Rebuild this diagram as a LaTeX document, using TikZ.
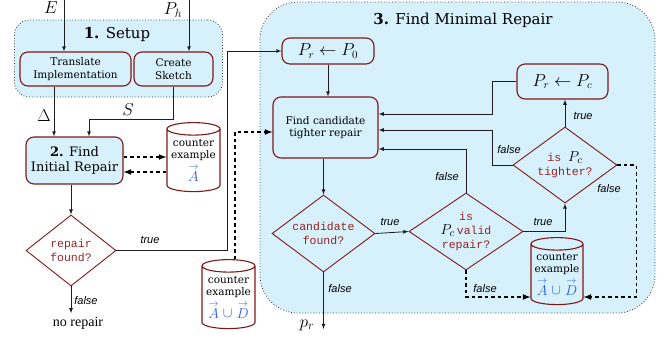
\documentclass[tikz,border=0pt]{standalone}
\usepackage{fontspec}
\setmainfont{DejaVu Serif}
\setmonofont{Liberation Mono}
\newfontfamily\labelfont{Liberation Sans}
\newfontfamily\plainserif{Liberation Serif}
\usetikzlibrary{shapes.geometric}

\definecolor{paleblue}{RGB}{214,240,252}
\definecolor{boxred}{RGB}{128,24,24}
\definecolor{testred}{RGB}{150,36,36}
\definecolor{vecblue}{RGB}{40,90,250}
\definecolor{wire}{RGB}{30,30,30}

\newcommand{\cexvec}[1]{{\color{vecblue}\fontsize{14}{15}\selectfont$#1$}}
\newcommand{\arr}[1]{\stackrel{\rightarrow}{#1}}

\tikzset{
  stage/.style={draw=black!80, dotted, line width=0.8pt, fill=paleblue},
  stepbox/.style={draw=boxred, line width=1.1pt, rounded corners=8pt, fill=paleblue,
    align=center, inner sep=0pt, font=\fontsize{10.5}{12.5}\selectfont},
  test/.style={diamond, draw=boxred, line width=0.9pt, align=center, inner sep=-6pt,
    text=testred, font=\ttfamily\fontsize{11.5}{14}\selectfont},
  store/.style={cylinder, shape border rotate=90, aspect=0.28, draw=boxred, line width=1.1pt,
    align=center, inner sep=0pt, font=\fontsize{10.5}{12.5}\selectfont},
  flow/.style={draw=wire, line width=0.8pt, -latex},
  probe/.style={draw=black, line width=1.6pt, dash pattern=on 3.5pt off 3pt, -latex},
  tag/.style={font=\labelfont\itshape\fontsize{11}{13}\selectfont},
  bigmath/.style={font=\fontsize{18}{20}\selectfont},
}

\begin{document}
\begin{tikzpicture}[x=1pt,y=-1pt]
\useasboundingbox (0,0) rectangle (672,346);

% the two stages drawn as shaded groups
\node[stage, rounded corners=15pt, minimum width=208pt, minimum height=77pt] (setup) at (118.5,58.5) {};
\node[stage, rounded corners=38pt, minimum width=395pt, minimum height=311pt] (minimal) at (457.5,157.5) {};
\node[font=\fontsize{15}{17}\selectfont] (setuptitle) at (117,34) {\textbf{1.} Setup};
\node[font=\fontsize{15}{17}\selectfont] (minimaltitle) at (463,20) {\textbf{3.} Find Minimal Repair};

% stage 1
\node[stepbox, minimum width=111pt, minimum height=34pt] (translate) at (75.5,69) {Translate\\Implementation};
\node[stepbox, minimum width=79pt, minimum height=34pt] (sketch) at (173.5,69) {Create\\Sketch};
\coordinate (ein) at (64,0);
\coordinate (phin) at (189,0);
\node[bigmath] (elabel) at (51,8) {$E$};
\node[bigmath] (phlabel) at (173,10) {$P_h$};
\draw[flow] (ein) -- (ein |- translate.north);
\draw[flow] (phin) -- (phin |- sketch.north);

% stage 2
\node[stepbox, font=\fontsize{13}{15}\selectfont, minimum width=97pt, minimum height=47pt] (initrepair) at (74.5,160.5) {\textbf{2.} Find\\Initial Repair};
\node[store, minimum width=53pt, minimum height=69pt] (cexA) at (193.5,160.5) {counter\\example\\[3pt]\cexvec{\arr{A}}};
\node[bigmath] (dlabel) at (44,116) {$\Delta$};
\node[bigmath] (slabel) at (128,110) {$S$};
\draw[flow] ([xshift=-21.5pt]translate.south) -- ([xshift=-21.5pt]translate.south |- initrepair.north);
\draw[flow] (sketch.south) -- ++(0,33) -| ([xshift=14.5pt]initrepair.north);
\draw[probe] (initrepair.east |- 0,157) -- (cexA.west |- 0,157);
\draw[probe] (cexA.west |- 0,172) -- (initrepair.east |- 0,172);

\node[test, minimum width=90pt, minimum height=71pt] (repfound) at (71,250.5) {repair\\found?};
\node[font=\plainserif\fontsize{14}{16}\selectfont] (norepair) at (78,323) {no repair};
\draw[flow] (repfound.north |- initrepair.south) -- (repfound.north);
\draw[flow] (repfound.south) -- (repfound.south |- norepair.north);
\node[tag] (repfalse) at (86,301) {false};

% stage 3
\node[stepbox, font=\fontsize{16}{18}\selectfont, minimum width=92pt, minimum height=26pt] (init) at (328,51) {$P_r \leftarrow P_0$};
\node[stepbox, minimum width=105pt, minimum height=61pt] (cand) at (325.5,127.5) {Find candidate\\tighter repair};
\node[stepbox, font=\fontsize{16}{18}\selectfont, minimum width=91pt, minimum height=35pt] (update) at (562.5,81.5) {$P_r \leftarrow P_c$};
\node[test, minimum width=103pt, minimum height=77pt] (candfound) at (323.5,233.5) {candidate\\found?};
\node[test, minimum width=114pt, minimum height=77pt] (valid) at (466,231.5) {is\\{\color{black}\fontsize{15}{15}\selectfont$P_c$}\,valid\\repair?};
\node[test, minimum width=104pt, minimum height=76pt] (tighter) at (565,165) {is {\color{black}\fontsize{15}{15}\selectfont$P_c$}\\tighter?};
\node[store, minimum width=52pt, minimum height=67pt] (cexAD) at (557,274.5) {counter\\example\\[3pt]\cexvec{\arr{A}\cup\arr{D}}};
\node[store, minimum width=53pt, minimum height=69pt] (cexADleft) at (228.5,297.5) {counter\\example\\[3pt]\cexvec{\arr{A}\cup\arr{D}}};
\coordinate (prout) at (323.5,329);
\node[bigmath] (prlabel) at (307,325) {$p_r$};

\draw[flow] (repfound.east) -| ([xshift=-54pt]init.west) -- (init.west);
\node[tag] (reptrue) at (150,240) {true};
\draw[flow] (init.south) -- (init.south |- cand.north);
\draw[probe] ([xshift=6.5pt]cexADleft.north) |- ([yshift=-4.5pt]cand.west);
\draw[flow] (candfound.north |- cand.south) -- (candfound.north);
\draw[flow] (candfound.east) -- (valid.west);
\node[tag] (candtrue) at (390,222) {true};
\draw[flow] (valid.east) -| (tighter.south);
\node[tag] (validtrue) at (543,222) {true};
\draw[flow] (tighter.north) -- (tighter.north |- update.south);
\node[tag] (tightertrue) at (583,116) {true};
\draw[flow] (update.west) -- ++(-24,0) |- ([yshift=13.5pt]cand.east);
\draw[flow] (tighter.west) -- ++(-20,0) |- ([yshift=-2.5pt]cand.east);
\node[tag] (tighterfalse) at (509,150) {false};
\draw[flow] (valid.north) |- ([yshift=-21.5pt]cand.east);
\node[tag] (validfalse) at (447,177) {false};
\draw[probe] (valid.south) |- ([yshift=-22.5pt]cexAD.west);
\node[tag] (storefalse) at (485,289) {false};
\draw[probe] (tighter.east) -- ++(19,0) |- ([yshift=-22.5pt]cexAD.east);
\node[tag] (rejectfalse) at (609,189) {false};
\draw[flow] (candfound.south) -- (prout);
\node[tag] (candfalse) at (340,289) {false};
\end{tikzpicture}
\end{document}
